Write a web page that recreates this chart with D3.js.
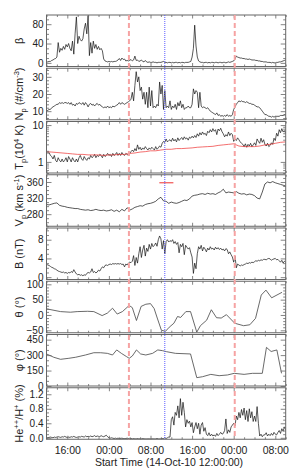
<!DOCTYPE html>
<html>
<head>
<meta charset="utf-8">
<script src="https://cdn.jsdelivr.net/npm/d3@7"></script>
<style>
  body { margin: 0; background: #fff; }
  svg { display: block; font-family: "Liberation Sans", Arial, sans-serif; }
</style>
</head>
<body>
<svg id="chart" width="301" height="473"></svg>
<script>
// time axis: 14-Oct-10 12:00 to 16-Oct-10 10:00 (UTC)
const startTime = new Date(Date.UTC(2010, 9, 14, 12));
const endTime = new Date(Date.UTC(2010, 9, 16, 10));
const xTickHours = [4, 12, 20, 28, 36, 44];
const xTickLabels = ['16:00', '00:00', '08:00', '16:00', '00:00', '08:00'];
const xMinorHours = [0, 2, 6, 8, 10, 14, 16, 18, 22, 24, 26, 30, 32, 34, 38, 40, 42, 46];

// event markers (hours after start)
const shockHours = [15.85, 36.2];
const blueLineHour = 22.75;
const vpMarker = { h0: 21.7, h1: 24.4, v: 358 };

// dense series sampled every 15 min
const sampleStep = 0.25;
const betaVals = [
  2,2,3,3,5,6,8,9, 12,42,22,30,26,34,28,38, 33,40,30,25,45,18,60,95, 40,55,48,45,50,70,82,60,
  98,15,42,20,45,30,38,28, 34,27,30,25,8,4,3,2, 3,2,3,2,3,3,4,6, 9,5,10,7,8,4,5,4,
  5,7,4,6,14,5,6,3, 4,6,3,2,5,2,1,2, 1,1,2,1,1,0,1,1, 1,2,3,1,1,0,1,1,
  0,1,0,1,1,0,1,0, 1,1,0,1,1,1,2,3, 12,30,78,35,12,4,2,1, 1,0,1,1,0,1,0,1,
  1,0,1,1,0,1,1,0, 1,1,0,1,2,1,2,3, 4,8,14,12,11,10,10,9, 9,8,8,7,8,7,6,6,
  6,5,5,4,4,3,3,2, 2,2,1,1,1,0,1,0, 0,1,1,2,2,3,4,5,6
];
const npVals = [
  10,10.5,11,11,12,12.5,13,13.5, 14,14,15,14.5,15,14.5,15,15, 14.5,15,14,15,13.5,14,13,14.5,
  14,15,14.5,14,15,13.5,15,14, 12.5,14,14.5,13.5,14,13,14,14.5, 13.5,14,13,12.5,12,12.5,12,13,
  12,12.5,12,13,12.5,13,13.5,14, 15,14,15,14.5,14,14.5,15,15.5, 16,17,21,16,25,33,27,30,
  22,24,17,21,14,21,12,24, 13,22,12,13,12,14,13,27, 20,25,11,22,12,13,12,16,
  11,13,12,14,11,15,13,16, 12,14,11,12,12,13,12,12, 14,23,20,22,21,12,21,13,
  12,12.5,12,11.5,12,11,10,9.5, 9,8.5,8,9,7.5,8,7,7.5, 7,7.5,7,8,7,7.5,7,8,
  11,12.5,14,15,16,15.5,16,15.5, 15.5,15,15.5,15,14.5,14.5,14,14, 13.5,13,12.5,12.5,12,11,10,9,
  8,8,7.5,7,7,6.5,7,6.5, 7,7,7,7,7.5,7.5,7.5,8,8
];
const tpVals = [
  1.9,1.7,1.8,1.5,1.4,1.2,1.5,1.1, 1.0,1.3,1.1,1.0,1.2,1.0,1.1,1.3, 1.0,1.4,1.2,1.0,1.3,1.1,1.0,1.2,
  1.0,1.3,1.5,1.2,1.1,1.4,1.2,1.1, 1.3,1.2,1.5,1.3,1.4,1.6,1.3,1.5, 1.4,1.6,1.5,1.3,1.6,1.4,1.5,1.7,
  1.5,1.6,1.4,1.7,1.5,1.6,1.8,1.5, 1.7,1.5,1.8,1.6,1.5,1.7,1.6,1.5, 1.7,1.9,2.1,1.9,2.3,2.0,2.9,2.2,
  2.5,2.1,2.4,2.2,2.6,2.3,2.1,2.4, 2.2,2.5,2.3,2.1,2.6,2.2,2.4,2.7, 2.5,3.2,3.6,3.4,4.2,3.5,3.8,4.0,
  3.6,4.4,3.7,4.1,3.5,4.5,3.8,4.2, 4.6,4.0,4.8,4.2,4.5,3.9,4.7,4.4, 5.0,4.5,5.2,4.6,5.8,5.0,6.2,5.4,
  6.5,5.6,6.0,5.2,6.8,6.2,7.5,6.5, 8.0,6.8,7.5,5.5,7.8,7.0,8.2,6.6, 5.8,4.8,5.5,5.0,6.5,5.2,6.0,5.5,
  3.6,4.2,3.8,4.5,4.0,3.5,3.2,3.0, 2.6,3.1,2.5,3.0,2.7,3.2,2.6,2.9, 3.3,2.8,4.2,3.6,3.2,4.4,3.4,4.0,
  3.0,2.7,3.2,2.6,2.8,3.3,3.0,4.4, 3.8,6.0,5.0,7.5,6.2,8.0,6.5,7.0,6.0
];
const bVals = [
  2.8,2.6,2.5,2.3,2.1,2.0,1.8,1.7, 1.5,1.3,1.2,1.1,1.0,1.1,0.9,1.0, 0.8,1.0,0.9,1.2,1.0,1.6,1.1,0.7,
  0.5,0.6,0.4,0.5,0.3,0.5,0.4,0.8, 1.0,0.9,1.1,1.8,1.0,1.2,0.9,1.1, 1.5,1.3,1.8,2.2,2.0,2.5,2.6,2.5,
  2.7,2.8,2.7,2.9,2.8,2.9,2.8,2.9, 2.8,2.9,2.7,2.8,2.2,2.8,2.6,3.0, 3.2,3.1,3.4,4.6,2.5,4.2,3.0,5.0,
  6.5,4.2,5.8,6.8,4.5,6.2,5.5,7.0, 6.0,7.2,6.5,6.8,7.3,6.6,8.0,8.8, 8.2,6.0,7.8,5.0,7.6,8.0,7.5,7.8,
  7.6,8.0,7.2,7.6,7.0,7.4,5.2,7.0, 6.5,7.2,4.8,6.8,6.4,6.0,6.3,5.2, 4.3,0.8,3.0,1.8,5.0,6.5,6.0,6.8,
  5.6,6.4,6.0,5.4,6.2,5.8,6.5,6.0, 6.2,5.8,6.4,6.0,6.3,5.9,6.2,5.8, 6.0,5.6,6.1,5.9,5.0,5.4,4.8,4.3,
  3.2,4.5,2.0,2.8,2.6,2.4,2.6,2.5, 2.7,2.8,3.0,2.9,3.1,3.0,3.2,3.1, 3.3,3.5,3.4,3.6,3.5,3.7,3.6,3.8,
  3.8,3.7,3.9,4.0,3.9,3.6,3.8,3.9, 4.0,3.7,3.8,3.5,3.2,3.6,3.0,3.4,3.2
];
const heVals = [
  0.01,0,0.01,0.02,0.01,0,0.02,0.01, 0.02,0.03,0.02,0.01,0.03,0.02,0.04,0.02, 0.01,0.02,0.01,0.03,0.02,0.04,0.02,0.01,
  0.02,0.03,0.02,0.04,0.03,0.02,0.05,0.03, 0.04,0.03,0.05,0.03,0.04,0.06,0.03,0.05, 0.04,0.03,0.06,0.04,0.03,0.05,0.07,0.03,
  0,-0.01,0,-0.01,-0.02,-0.01,-0.02,-0.01, -0.02,-0.02,-0.01,-0.02,-0.02,-0.02,-0.01,-0.02, -0.03,-0.02,-0.03,-0.02,-0.03,-0.03,-0.02,-0.03,
  -0.03,-0.03,-0.02,-0.03,-0.03,-0.03,-0.03,-0.03, -0.03,-0.03,-0.03,-0.03,-0.03,-0.02,-0.03,-0.03, -0.03,-0.02,-0.02,0,-0.02,0,0.02,0.02,
  0.5,0.58,0.35,0.7,0.62,0.88,0.55,1.08, 0.62,0.98,0.7,0.3,0.5,0.4,0.46,0.3, 0.42,0.14,0.3,0.42,0.25,0.4,0.1,0.35,
  0.42,0.18,0.28,0.1,0.06,0.14,0.05,0.1, 0.05,0.08,0.04,0.12,0.06,0.1,0.15,0.1, 0.12,0.2,0.52,0.12,0.22,0.15,0.3,0.35,
  0.4,0.33,0.6,0.5,0.7,0.55,0.78,0.62, 0.82,0.5,0.75,0.45,0.8,0.55,0.72,0.45, 0.6,0.45,0.86,0.4,0.05,0.1,0.03,0.08,
  0.08,0.14,0.05,0.1,0.06,0.12,0.07,0.15, 0.1,0.08,0.15,0.2,0.12,0.25,0.18,0.3,0.22
];

// series sampled every 30 min
const vpStep = 0.5;
const vpVals = [
  304,303,305,307,308,302,300,299, 297,296,295,294,294,292,291,290, 291,289,290,292,290,289,290,288,
  289,291,287,290,286,292,288,296, 290,293,297,299,301,300,304,306, 307,309,312,318,322,313,312,307,
  310,308,307,309,312,315,314,318, 325,327,328,330,331,329,332,330, 331,329,333,336,342,333,335,334,
  333,336,332,330,331,328,330,329, 326,320,318,335,355,360,358,361, 358,356,354,352,350
];

// expected proton temperature, hourly
const tpExpStep = 1;
const tpExpVals = [
  1.9,1.85,1.8,1.75,1.7,1.65,1.6,1.6,1.55,1.55, 1.55,1.5,1.55,1.55,1.6,1.6,1.7,1.75,1.85,1.9,
  2.0,2.0,2.1,2.2,2.2,2.3,2.3,2.35,2.4,2.5, 2.55,2.6,2.65,2.8,2.9,3.0,3.1,2.7,2.6,2.6,
  2.6,2.7,2.9,3.0,3.2,3.4,3.5
];

// field direction, irregular times
const thetaHours = [0,2.7,4.6,5.9,7.9,9.1,10.7,11.7,12.7,13.6, 14.6,15.9,16.5,17.3,18.2,19.1,20.0,20.7,21.3,22.1,
  22.9,23.6,24.5,25.2,25.8,26.8,27.7,28.9,29.6,30.8, 31.7,32.7,33.6,34.6,36.2,37.9,39.1,40.2,41.3,42.2, 43.3,45.3];
const thetaVals = [20,11,9,11,12,11,-2,6,22,3, 11,31,24,-18,28,35,37,21,-10,-50,
  -53,-40,-27,-5,-8,11,11,-56,-35,-17, 17,-9,-10,1,-27,-35,-32,-11,65,81, 56,74];
const phiHours = [0,1.4,2.7,4.3,5.6,7.5,9.1,10.4,11.7,12.7, 13.5,14.4,15.4,15.9,16.5,17.3,18.1,19.1,20.4,21.4,
  22.3,23.1,24.8,27.7,28.9,30.0,31.6,33.2,34.8,36.1, 38.0,39.6,41.5,42.3,43.2,44.3,45.2];
const phiVals = [311,279,259,269,279,301,323,323,317,301, 350,317,285,269,291,350,311,301,317,350,
  343,333,317,311,81,90,113,100,107,123, 113,123,123,375,335,350,123];

// ---------- layout ----------
const svg = d3.select('#chart');
const plotLeft = 46.5, plotRight = 285.7;
const firstTop = 15, panelStep = 53.25, panelH = 51.5;
const axisColor = '#666', textColor = '#222';

const hourToDate = h => new Date(startTime.getTime() + h * 3600e3);
const x = d3.scaleUtc().domain([startTime, endTime]).range([plotLeft, plotRight]);

const stepSeries = (vals, step) => vals.map((v, i) => ({ t: hourToDate(i * step), v }));
const pairSeries = (hours, vals) => vals.map((v, i) => ({ t: hourToDate(hours[i]), v }));

const panels = [
  { title: [['β']], domain: [-7.5, 99], major: [0, 40, 80], minorStep: 10,
    series: [{ data: stepSeries(betaVals, sampleStep), color: '#111' }] },
  { title: [['N'], ['p', 'sub'], [' (#/cm'], ['-3', 'sup'], [')']], domain: [5, 35], major: [10, 20, 30], minorStep: 2,
    series: [{ data: stepSeries(npVals, sampleStep), color: '#111' }] },
  { title: [['T'], ['p', 'sub'], ['(10'], ['4', 'sup'], [' K)']], domain: [0.5, 12.5], log: true, major: [1, 10],
    minor: [0.5, 0.6, 0.7, 0.8, 0.9, 2, 3, 4, 5, 6, 7, 8, 9],
    series: [{ data: stepSeries(tpVals, sampleStep), color: '#111' },
             { data: stepSeries(tpExpVals, tpExpStep), color: '#ee3030' }] },
  { title: [['V'], ['p', 'sub'], [' (km s'], ['-1', 'sup'], [')']], domain: [250, 378], major: [280, 320, 360], minorStep: 10,
    series: [{ data: stepSeries(vpVals, vpStep), color: '#111' }] },
  { title: [['B (nT)']], domain: [-0.5, 10.5], major: [0, 4, 8], minorStep: 1,
    series: [{ data: stepSeries(bVals, sampleStep), color: '#111' }] },
  { title: [['θ (°)']], domain: [-58, 110], major: [-50, 0, 50, 100], minorStep: 10,
    series: [{ data: pairSeries(thetaHours, thetaVals), color: '#444' }] },
  { title: [['φ (°)']], domain: [0, 500], major: [0, 150, 300, 450], minorStep: 50,
    series: [{ data: pairSeries(phiHours, phiVals), color: '#444' }] },
  { title: [['He'], ['++', 'sup'], ['/H'], ['+', 'sup'], [' (%)']], domain: [-0.04, 1.38], major: [0, 0.4, 0.8, 1.2], minorStep: 0.1,
    fmt: d3.format('.1f'), series: [{ data: stepSeries(heVals, sampleStep), color: '#111' }] }
];

function drawTitle(pieces, cx, cy) {
  const t = svg.append('text')
    .attr('transform', `translate(${cx},${cy}) rotate(-90)`)
    .attr('text-anchor', 'middle')
    .attr('font-size', 11)
    .attr('fill', textColor);
  let shift = 0;
  pieces.forEach(([s, kind]) => {
    const target = kind === 'sub' ? 3 : kind === 'sup' ? -4.5 : 0;
    const ts = t.append('tspan').text(s).attr('dy', target - shift);
    if (kind) ts.attr('font-size', 7.5);
    shift = target;
  });
}

panels.forEach((p, k) => {
  const top = firstTop + k * panelStep;
  const bottom = top + panelH;
  const y = (p.log ? d3.scaleLog() : d3.scaleLinear()).domain(p.domain).range([bottom, top]);
  const minor = p.minor || d3.range(Math.ceil(p.domain[0] / p.minorStep) * p.minorStep, p.domain[1], p.minorStep)
    .map(v => +v.toFixed(3)).filter(v => !p.major.includes(v));
  const g = svg.append('g');

  // clip region for data
  const clipId = 'clip' + k;
  svg.append('clipPath').attr('id', clipId)
    .append('rect').attr('x', plotLeft).attr('y', top).attr('width', plotRight - plotLeft).attr('height', panelH);

  // data lines
  const line = d3.line().x(d => x(d.t)).y(d => y(d.v));
  p.series.forEach(s => {
    g.append('path').datum(s.data)
      .attr('clip-path', `url(#${clipId})`)
      .attr('d', line)
      .attr('fill', 'none')
      .attr('stroke', s.color)
      .attr('stroke-width', s.color === '#444' ? 0.8 : 0.7)
      .attr('stroke-linejoin', 'round');
  });

  // y axes (ticks inward, both sides)
  const fmt = p.fmt || d3.format('d');
  const yl = g.append('g').attr('transform', `translate(${plotLeft},0)`)
    .call(d3.axisLeft(y).tickValues(p.major).tickSize(-5).tickPadding(3).tickFormat(fmt));
  g.append('g').attr('transform', `translate(${plotLeft},0)`)
    .call(d3.axisLeft(y).tickValues(minor).tickSize(-2.5).tickFormat(''));
  g.append('g').attr('transform', `translate(${plotRight},0)`)
    .call(d3.axisRight(y).tickValues(p.major).tickSize(-5).tickFormat(''));
  g.append('g').attr('transform', `translate(${plotRight},0)`)
    .call(d3.axisRight(y).tickValues(minor).tickSize(-2.5).tickFormat(''));
  yl.selectAll('text').attr('font-size', 10).attr('fill', textColor);

  // x axes, top and bottom
  const isLast = k === panels.length - 1;
  const xMajor = xTickHours.map(hourToDate);
  const xMinor = xMinorHours.map(hourToDate);
  const xb = g.append('g').attr('transform', `translate(0,${bottom})`)
    .call(d3.axisBottom(x).tickValues(xMajor).tickSize(-3.5).tickPadding(7)
      .tickFormat((d, i) => isLast ? xTickLabels[i] : ''));
  xb.selectAll('text').attr('font-size', 10.5).attr('fill', textColor);
  g.append('g').attr('transform', `translate(0,${bottom})`)
    .call(d3.axisBottom(x).tickValues(xMinor).tickSize(-2).tickFormat(''));
  g.append('g').attr('transform', `translate(0,${top})`)
    .call(d3.axisTop(x).tickValues(xMajor).tickSize(-3.5).tickFormat(''));
  g.append('g').attr('transform', `translate(0,${top})`)
    .call(d3.axisTop(x).tickValues(xMinor).tickSize(-2).tickFormat(''));

  g.selectAll('.domain').remove();
  g.selectAll('.tick line').attr('stroke', axisColor).attr('stroke-width', 0.8);

  // frame
  g.append('rect').attr('x', plotLeft).attr('y', top)
    .attr('width', plotRight - plotLeft).attr('height', panelH)
    .attr('fill', 'none').attr('stroke', axisColor).attr('stroke-width', 1);

  drawTitle(p.title, 23, top + panelH / 2);

  // red marker in the velocity panel
  if (k === 3) {
    g.append('line')
      .attr('x1', x(hourToDate(vpMarker.h0))).attr('x2', x(hourToDate(vpMarker.h1)))
      .attr('y1', y(vpMarker.v)).attr('y2', y(vpMarker.v))
      .attr('stroke', '#ee3030').attr('stroke-width', 1);
  }
});

// event lines across all panels
const yTop = firstTop, yBottom = firstTop + 7 * panelStep + panelH;
svg.selectAll('line.shock').data(shockHours).join('line')
  .attr('class', 'shock')
  .attr('x1', d => x(hourToDate(d))).attr('x2', d => x(hourToDate(d)))
  .attr('y1', yTop).attr('y2', yBottom)
  .attr('stroke', '#f6a3a3').attr('stroke-width', 2).attr('stroke-dasharray', '5,3');
svg.append('line')
  .attr('x1', x(hourToDate(blueLineHour))).attr('x2', x(hourToDate(blueLineHour)))
  .attr('y1', yTop).attr('y2', yBottom)
  .attr('stroke', '#5a5aff').attr('stroke-width', 1).attr('stroke-dasharray', '1,1');

svg.append('text')
  .attr('x', 169).attr('y', 466)
  .attr('text-anchor', 'middle')
  .attr('font-size', 10.5)
  .attr('fill', textColor)
  .text('Start Time (14-Oct-10 12:00:00)');
</script>
</body>
</html>
